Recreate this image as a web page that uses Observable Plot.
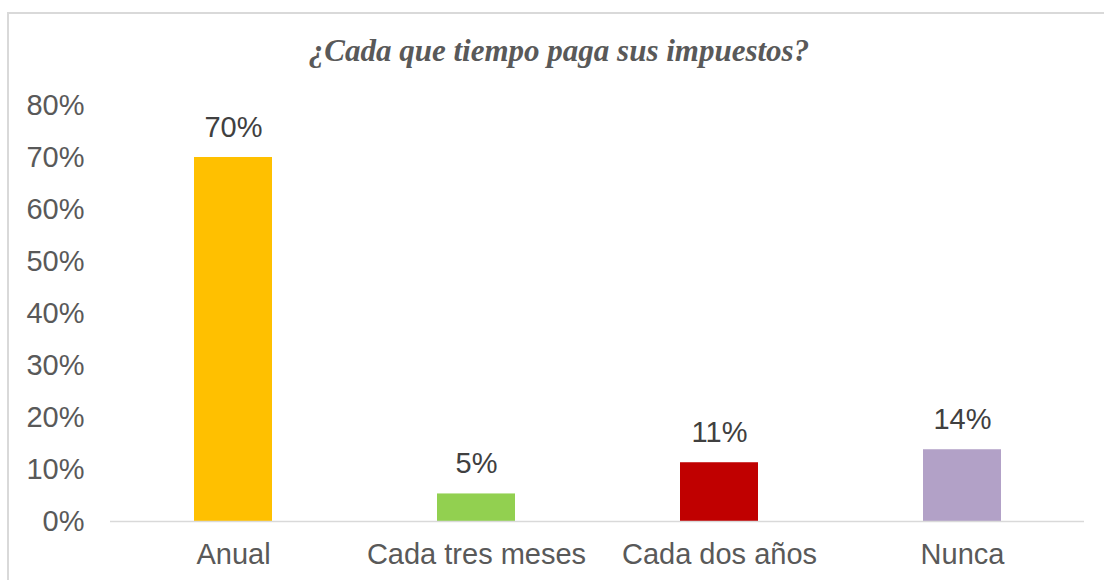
<!DOCTYPE html>
<html>
<head>
<meta charset="utf-8">
<script src="https://cdn.jsdelivr.net/npm/d3@7"></script>
<script src="https://cdn.jsdelivr.net/npm/@observablehq/plot@0.6"></script>
<style>
  html, body { margin: 0; padding: 0; background: #fff; width: 1104px; height: 580px; overflow: hidden; }
  #frame { position: absolute; left: 7px; top: 12px; width: 1120px; height: 620px; border: 2px solid #d9d9d9; box-sizing: border-box; }
  #title { position: absolute; left: 0; top: 35px; width: 1118px; text-align: center;
    font-family: "Liberation Serif", "Times New Roman", serif; font-weight: bold; font-style: italic;
    font-size: 31px; line-height: 1; color: #595959; }
  #chart { position: absolute; left: 0; top: 80px; }
  #chart svg { overflow: visible; }
</style>
</head>
<body>
<div id="frame"></div>
<div id="title">¿Cada que tiempo paga sus impuestos?</div>
<div id="chart"></div>
<script>
const categories = ["Anual", "Cada tres meses", "Cada dos años", "Nunca"];
const values = [0.70, 0.053, 0.113, 0.138];
const colors = ["#FFC000", "#92D050", "#C00000", "#B2A1C7"];
const yTicks = [0, 0.1, 0.2, 0.3, 0.4, 0.5, 0.6, 0.7, 0.8];

const data = categories.map((c, i) => ({category: c, value: values[i]}));
const pct = d3.format(".0%");

const chart = Plot.plot({
  width: 1104,
  height: 500,
  marginLeft: 110,
  marginRight: 20,
  marginTop: 25,
  marginBottom: 59,
  style: {fontFamily: "'Liberation Sans', Arial, sans-serif", fontSize: "29px", color: "#595959", background: "transparent"},
  x: {domain: categories, paddingInner: 0.68, paddingOuter: 0.34, label: null, tickSize: 0, tickPadding: 22},
  y: {domain: [0, 0.8], ticks: yTicks, tickFormat: pct, label: null, tickSize: 0, tickPadding: 26},
  color: {domain: categories, range: colors},
  marks: [
    Plot.barY(data, {x: "category", y: "value", fill: "category"}),
    Plot.ruleY([0], {stroke: "#d9d9d9", strokeWidth: 1.5}),
    Plot.text(data, {x: "category", y: "value", text: d => pct(d.value), dy: -30, fill: "#404040", fontSize: 29})
  ]
});
document.getElementById("chart").appendChild(chart);
</script>
</body>
</html>
